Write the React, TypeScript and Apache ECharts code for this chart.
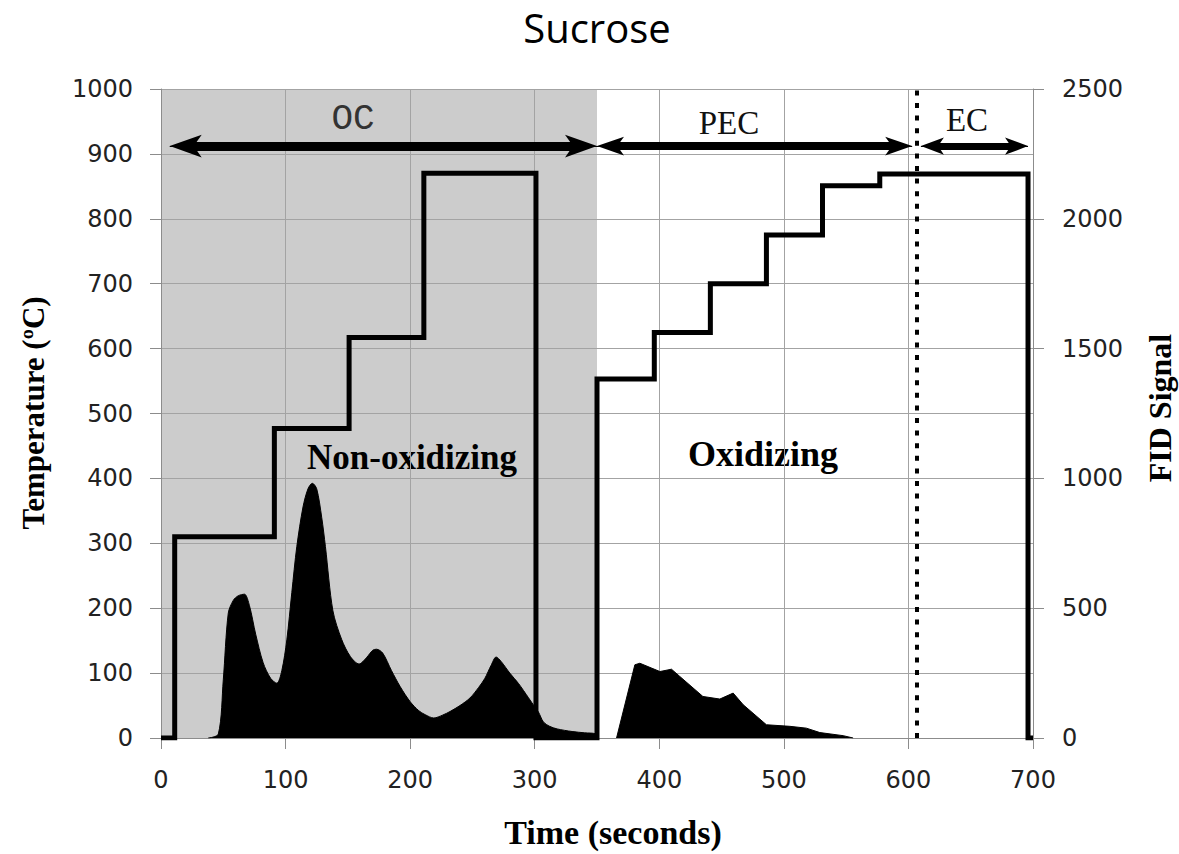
import React, { useEffect, useRef } from "react";
import * as echarts from "echarts";

// ---- Data ----
const xTicks = [0, 700, 100]; // min, max, interval (seconds)
const tempTicks = [0, 1000, 100];
const fidTicks = [0, 2500, 500];

// Temperature program (°C) as [time, temperature] step points
const temperature: [number, number][] = [
  [0, 0], [11, 0], [11, 310], [91, 310], [91, 477], [151, 477], [151, 617],
  [211, 617], [211, 870], [301, 870], [301, 0], [350, 0], [350, 553],
  [396, 553], [396, 625], [441, 625], [441, 700], [486, 700], [486, 775],
  [531, 775], [531, 851], [577, 851], [577, 869], [696, 869], [696, 0], [700, 0],
];

// FID signal, non-oxidizing phase
const fidNonOxidizing: [number, number][] = [
  [38, 0], [46, 15], [50, 224], [54, 481], [58, 530], [62, 548], [67, 554],
  [71, 510], [76, 400], [82, 290], [88, 230], [93, 211], [97, 260], [101, 378],
  [105, 560], [109, 737], [114, 890], [118, 960], [121.5, 981], [125, 960],
  [129, 850], [132, 737], [138, 490], [145, 380], [152, 314], [159, 285],
  [165, 310], [170, 338], [173, 342], [178, 327], [185, 260], [192, 198],
  [200, 140], [207, 105], [212, 90], [219, 77], [226, 88], [232, 102],
  [240, 125], [248, 154], [255, 195], [260, 230], [265, 280], [269, 312],
  [273, 295], [280, 250], [287, 210], [295, 155], [300, 120], [303, 100],
  [307, 62], [312, 45], [318, 35], [330, 25], [340, 20], [349, 16], [351, 0],
];

// FID signal, oxidizing phase
const fidOxidizing: [number, number][] = [
  [365.7, 0], [380.4, 282], [384.4, 288], [400.5, 256], [409.8, 265],
  [416.5, 237], [435, 160], [448.6, 150], [459.3, 173], [467.4, 128],
  [486, 51], [504.8, 45], [518, 38], [528.9, 21], [547.6, 9], [555.6, 0],
];

// Phase boundaries (seconds)
const nonOxidizingSpan = [0, 350];
const splitTime = 606.5;
const arrowLevel = 912;
const ocArrow = [7, 350];
const pecArrow = [350, 603];
const ecArrow = [610, 696];

const serif = "'Liberation Serif', 'Times New Roman', serif";
const tickFont = "'DejaVu Sans', Verdana, sans-serif";

export default function App() {
  const ref = useRef<HTMLDivElement>(null);

  useEffect(() => {
    if (!ref.current) return;
    const chart = echarts.init(ref.current, null, { renderer: "svg" });

    const axisLine = { show: true, lineStyle: { color: "#8c8c8c", width: 1 } };
    const axisTick = { show: true, length: 11, lineStyle: { color: "#8c8c8c", width: 1 } };
    const axisLabel = {
      color: "#222", fontFamily: tickFont, fontSize: 24, margin: 28,
      formatter: (v: number) => String(v),
    };

    // each arrow = thick shaft (ends tucked inside the heads) + thin line carrying the heads
    const arrowShaft = (span: number[], w: number, inset: number) => {
      const ls = { color: "#000", width: w, type: "solid" };
      return [
        { coord: [span[0] + inset, arrowLevel], symbol: "none", lineStyle: ls },
        { coord: [span[1] - inset, arrowLevel], symbol: "none", lineStyle: ls },
      ];
    };
    const arrowHeads = (span: number[], head: number[]) => {
      const ls = { color: "#000", width: 1, type: "solid" };
      return [
        { coord: [span[0], arrowLevel], symbol: "arrow", symbolSize: head, lineStyle: ls },
        { coord: [span[1], arrowLevel], symbol: "arrow", symbolSize: head, lineStyle: ls },
      ];
    };

    chart.setOption({
      animation: false,
      backgroundColor: "#ffffff",
      grid: { left: 161, right: 146, top: 89, bottom: 116, containLabel: false },
      xAxis: {
        type: "value",
        min: xTicks[0], max: xTicks[1], interval: xTicks[2],
        axisLine, axisTick,
        axisLabel: { ...axisLabel, margin: 30 },
        splitLine: { show: true, lineStyle: { color: "#a3a3a3", width: 1 } },
      },
      yAxis: [
        {
          type: "value",
          min: tempTicks[0], max: tempTicks[1], interval: tempTicks[2],
          axisLine, axisTick, axisLabel,
          splitLine: { show: true, lineStyle: { color: "#a3a3a3", width: 1 } },
        },
        {
          type: "value", position: "right",
          min: fidTicks[0], max: fidTicks[1], interval: fidTicks[2],
          axisLine, axisTick,
          axisLabel: { ...axisLabel, margin: 29 },
          splitLine: { show: false },
        },
      ],
      series: [
        {
          type: "line",
          data: [[0, 0]],
          symbol: "none",
          lineStyle: { width: 0 },
          silent: true,
          markArea: {
            z: -1,
            silent: true,
            itemStyle: { color: "#cccccc" },
            data: [[{ xAxis: nonOxidizingSpan[0] }, { xAxis: nonOxidizingSpan[1] }]],
          },
        },
        {
          type: "line",
          yAxisIndex: 1,
          data: fidNonOxidizing,
          symbol: "none",
          smooth: 0.3,
          lineStyle: { color: "#000", width: 1 },
          areaStyle: { color: "#000", opacity: 1 },
          z: 2,
        },
        {
          type: "line",
          yAxisIndex: 1,
          data: fidOxidizing,
          symbol: "none",
          lineStyle: { color: "#000", width: 1 },
          areaStyle: { color: "#000", opacity: 1 },
          z: 2,
        },
        {
          type: "line",
          data: temperature,
          symbol: "none",
          lineStyle: { color: "#000", width: 5, join: "miter" },
          z: 3,
          markLine: {
            silent: true,
            symbol: ["none", "none"],
            label: { show: false },
            data: [
              {
                xAxis: splitTime,
                lineStyle: { color: "#000", width: 4, type: [5, 7.6] },
              },
              arrowShaft(ocArrow, 9, 14),
              arrowShaft(pecArrow, 8, 11),
              arrowShaft(ecArrow, 7, 9),
              arrowHeads(ocArrow, [17, 32]),
              arrowHeads(pecArrow, [14, 27]),
              arrowHeads(ecArrow, [13, 23]),
            ],
          },
        },
      ],
      graphic: [
        { type: "text", x: 597, y: 27, style: { text: "Sucrose", font: "40px 'Open Sans', sans-serif", fill: "#000", textAlign: "center", textVerticalAlign: "middle" } },
        { type: "text", x: 33, y: 413, rotation: Math.PI / 2, style: { text: "Temperature (ºC)", font: `bold 31px ${serif}`, fill: "#000", textAlign: "center", textVerticalAlign: "middle" } },
        { type: "text", x: 1160, y: 408, rotation: Math.PI / 2, style: { text: "FID Signal", font: `bold 32px ${serif}`, fill: "#000", textAlign: "center", textVerticalAlign: "middle" } },
        { type: "text", x: 613, y: 832, style: { text: "Time (seconds)", font: `bold 34px ${serif}`, fill: "#000", textAlign: "center", textVerticalAlign: "middle" } },
        { type: "text", x: 353, y: 119, style: { text: "OC", font: "36px 'Liberation Mono', 'Courier New', monospace", fill: "#333", textAlign: "center", textVerticalAlign: "middle" } },
        { type: "text", x: 729, y: 123, style: { text: "PEC", font: `33px ${serif}`, fill: "#111", textAlign: "center", textVerticalAlign: "middle" } },
        { type: "text", x: 967, y: 120, style: { text: "EC", font: `33px ${serif}`, fill: "#111", textAlign: "center", textVerticalAlign: "middle" } },
        { type: "text", x: 412, y: 457, style: { text: "Non-oxidizing", font: `bold 35px ${serif}`, fill: "#000", textAlign: "center", textVerticalAlign: "middle" } },
        { type: "text", x: 763, y: 454, style: { text: "Oxidizing", font: `bold 36px ${serif}`, fill: "#000", textAlign: "center", textVerticalAlign: "middle" } },
      ],
    });

    return () => chart.dispose();
  }, []);

  return (
    <div
      ref={ref}
      style={{ position: "fixed", left: 0, top: 0, width: 1179, height: 854 }}
    />
  );
}
